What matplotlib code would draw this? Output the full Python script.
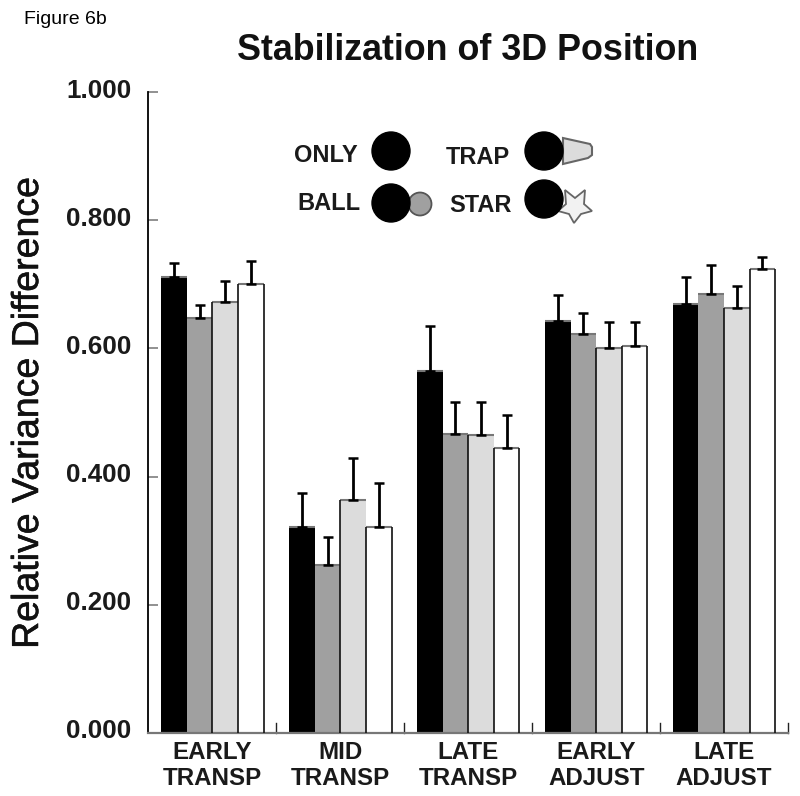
import matplotlib
matplotlib.use("Agg")
import matplotlib.pyplot as plt
import matplotlib.patheffects as pe
from matplotlib.patches import Circle, Polygon
from matplotlib.transforms import ScaledTranslation
import numpy as np

plt.rcParams['font.family'] = ['Liberation Sans', 'DejaVu Sans']

groups = ['EARLY\nTRANSP', 'MID\nTRANSP', 'LATE\nTRANSP', 'EARLY\nADJUST', 'LATE\nADJUST']
only = [0.712, 0.322, 0.565, 0.643, 0.670]
ball = [0.647, 0.262, 0.467, 0.622, 0.685]
trap = [0.673, 0.363, 0.465, 0.600, 0.663]
star = [0.700, 0.322, 0.444, 0.604, 0.724]
only_err = [0.022, 0.052, 0.070, 0.040, 0.041]
ball_err = [0.020, 0.043, 0.050, 0.033, 0.045]
trap_err = [0.032, 0.066, 0.052, 0.041, 0.035]
star_err = [0.036, 0.068, 0.052, 0.037, 0.018]
yticks = [0.0, 0.2, 0.4, 0.6, 0.8, 1.0]

series = [(only, only_err, '#000000', False), (ball, ball_err, '#a0a0a0', False),
          (trap, trap_err, '#dcdcdc', True), (star, star_err, '#ffffff', True)]

W, H = 800, 796
fig = plt.figure(figsize=(8, 7.96), dpi=100)
ax = fig.add_axes([148 / W, 1 - 733 / H, (788 - 148) / W, (733 - 92) / H])

x = np.arange(len(groups))
width = 0.2
for i, (vals, errs, col, sides) in enumerate(series):
    pos = x + (i - 1.5) * width
    ax.bar(pos, vals, width, color=col, linewidth=0, zorder=2)
    # top edge is grey, only the light bars get dark sides
    ax.hlines(vals, pos - width / 2, pos + width / 2, color='#777777', lw=1.5, zorder=3)
    if sides:
        ax.vlines(pos - width / 2, 0, vals, color='#111111', lw=1.2, zorder=3)
    if i == 3:
        ax.vlines(pos + width / 2, 0, vals, color='#111111', lw=1.2, zorder=3)
    ax.errorbar(pos, vals, yerr=[np.zeros(len(errs)), errs], fmt='none', ecolor='black',
                elinewidth=2, capsize=3.5, capthick=1.8, zorder=4)

ax.set_xlim(-0.504, 4.5)
ax.set_ylim(0, 1.0)
ax.spines['top'].set_visible(False)
ax.spines['right'].set_visible(False)
ax.spines['left'].set_linewidth(1.3)
ax.spines['bottom'].set_linewidth(1.6)
ax.spines['bottom'].set_color('#777777')
ax.set_yticks(yticks)
ax.set_yticklabels(['%.3f' % t for t in yticks], fontsize=18.7, fontweight='bold', color='#1a1a1a')
ax.tick_params(axis='y', direction='in', length=7, width=1.3, color='#888888', pad=12)
up = ScaledTranslation(0, 4 / 100, fig.dpi_scale_trans)
for lab in ax.get_yticklabels():
    lab.set_transform(lab.get_transform() + up)
ax.set_xticks(x)
ax.set_xticklabels(groups, fontsize=17.4, fontweight='bold', color='#1a1a1a', linespacing=1.15)
ax.tick_params(axis='x', length=0, pad=5.7)
# short ticks between the groups point up
for b in x + 0.5:
    ax.plot([b, b], [0, 0.015], color='#222222', lw=1, clip_on=False)

ylab = ax.set_ylabel('Relative Variance Difference', fontsize=27, color='#111111', va='center')
ax.yaxis.set_label_coords((28 - 148) / (788 - 148), (733 - 413) / 641)
ylab.set_path_effects([pe.withStroke(linewidth=0.4, foreground='#111111')])

fig.text(24 / W, 1 - 20 / H, 'Figure 6b', fontsize=14, va='center', color='black')
fig.text(468 / W, 1 - 51 / H, 'Stabilization of 3D Position', fontsize=25.8, fontweight='bold',
         ha='center', va='center', color='#111111')

# key drawn in pixel coordinates
key = fig.add_axes([0, 0, 1, 1], facecolor='none')
key.set_xlim(0, W)
key.set_ylim(H, 0)
key.axis('off')
key.add_patch(Circle((391, 151), 19, color='black'))
key.add_patch(Circle((420, 204), 11.5, fc='#a0a0a0', ec='#555555', lw=1.3))
key.add_patch(Circle((391, 203), 19, color='black'))
key.add_patch(Polygon([(563, 138), (590, 144), (592, 147), (592, 155), (588, 158), (563, 164)],
                      fc='#dcdcdc', ec='#666666', lw=1.5))
key.add_patch(Circle((544, 151), 19, color='black'))
star_pts = [(565, 190), (575, 198), (585, 190), (584, 204), (592, 211), (581, 214),
            (574, 223), (569, 214), (558, 211), (566, 204)]
key.add_patch(Polygon(star_pts, fc='#f2f2f2', ec='#666666', lw=1.3))
key.add_patch(Circle((544, 199), 19, color='black'))
for label, lx, ly in [('ONLY', 325.5, 155), ('BALL', 329, 203), ('TRAP', 478, 158), ('STAR', 480, 206)]:
    key.text(lx, ly, label, fontsize=17, fontweight='bold', ha='center', va='center', color='#1a1a1a')

fig.savefig('out.png', dpi=100)
